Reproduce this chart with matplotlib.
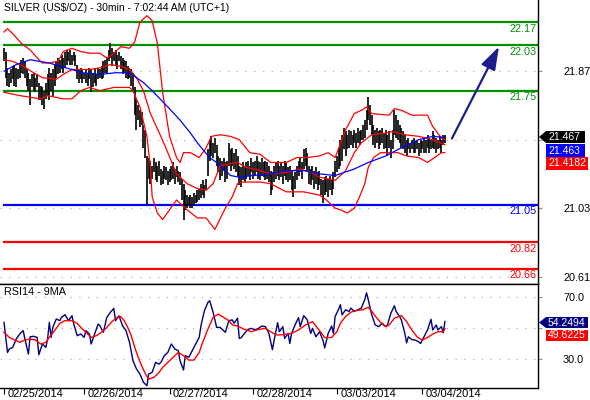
import matplotlib
matplotlib.use('Agg')
import matplotlib.pyplot as plt
import matplotlib.transforms as mtransforms
from matplotlib.patches import Polygon
import numpy as np

plt.rcParams['font.family'] = ['Liberation Sans', 'DejaVu Sans']

# ---------------- data ----------------
title = "SILVER (US$/OZ) - 30min - 7:02:44 AM (UTC+1)"
rsi_title = "RSI14 - 9MA"
date_labels = ["02/25/2014", "02/26/2014", "02/27/2014", "02/28/2014", "03/03/2014", "03/04/2014"]
date_ticks = [0, 46, 95, 143, 191, 240]          # bar index of each session start

price_ticks = [21.87, 21.45, 21.03, 20.61]
price_tick_labels = ["21.87", "", "21.03", "20.61"]   # 21.45 is hidden behind the value tags
rsi_ticks = [30.0, 50.0, 70.0]
rsi_tick_labels = ["30.0", "", "70.0"]                # 50.0 is hidden behind the value tags

green_levels = [22.17, 22.03, 21.75]
blue_levels = [21.05]
red_levels = [20.82, 20.66]

bar_high = [
    22.01, 21.99, 21.89, 21.86, 21.88, 21.90, 21.91, 21.89, 21.88, 21.91,
    21.94, 21.95, 21.93, 21.88, 21.86, 21.82, 21.85, 21.86, 21.83, 21.85,
    21.80, 21.78, 21.77, 21.75, 21.80, 21.85, 21.89, 21.86, 21.88, 21.91,
    21.93, 21.95, 21.94, 21.97, 21.95, 21.99, 22.00, 21.99, 22.00, 21.97,
    21.99, 21.97, 21.91, 21.88, 21.89, 21.88, 21.86, 21.88, 21.86, 21.89,
    21.88, 21.86, 21.88, 21.85, 21.89, 21.88, 21.90, 21.93, 21.94, 21.95,
    22.00, 22.04, 22.01, 21.99, 22.00, 21.97, 21.99, 21.96, 21.95, 21.94,
    21.93, 21.90, 21.89, 21.88, 21.86, 21.77, 21.69, 21.66, 21.63, 21.62,
    21.54, 21.51, 21.35, 21.34, 21.32, 21.29, 21.34, 21.31, 21.29, 21.32,
    21.27, 21.26, 21.29, 21.28, 21.26, 21.27, 21.29, 21.31, 21.27, 21.29,
    21.26, 21.25, 21.21, 21.18, 21.14, 21.11, 21.10, 21.11, 21.10, 21.12,
    21.11, 21.14, 21.15, 21.18, 21.20, 21.17, 21.21, 21.39, 21.45, 21.47,
    21.43, 21.46, 21.42, 21.35, 21.34, 21.32, 21.34, 21.31, 21.32, 21.43,
    21.39, 21.40, 21.37, 21.39, 21.35, 21.29, 21.28, 21.31, 21.29, 21.31,
    21.32, 21.29, 21.34, 21.31, 21.32, 21.35, 21.32, 21.31, 21.34, 21.31,
    21.32, 21.31, 21.29, 21.26, 21.25, 21.29, 21.31, 21.32, 21.29, 21.31,
    21.29, 21.32, 21.31, 21.28, 21.29, 21.26, 21.23, 21.25, 21.29, 21.32,
    21.34, 21.31, 21.39, 21.40, 21.37, 21.29, 21.27, 21.29, 21.26, 21.28,
    21.25, 21.26, 21.21, 21.20, 21.22, 21.23, 21.21, 21.23, 21.20, 21.25,
    21.32, 21.35, 21.39, 21.45, 21.48, 21.52, 21.50, 21.48, 21.51, 21.50,
    21.48, 21.51, 21.49, 21.52, 21.50, 21.51, 21.54, 21.57, 21.63, 21.71,
    21.66, 21.60, 21.54, 21.51, 21.52, 21.50, 21.51, 21.52, 21.49, 21.51,
    21.48, 21.50, 21.45, 21.51, 21.63, 21.60, 21.57, 21.54, 21.52, 21.50,
    21.48, 21.45, 21.46, 21.43, 21.45, 21.46, 21.44, 21.45, 21.43, 21.45,
    21.44, 21.46, 21.45, 21.48, 21.46, 21.45, 21.50, 21.48, 21.46, 21.45,
    21.47, 21.45, 21.48, 21.48,
]
bar_low = [
    21.93, 21.83, 21.78, 21.77, 21.80, 21.82, 21.78, 21.77, 21.82, 21.83,
    21.86, 21.85, 21.83, 21.78, 21.75, 21.66, 21.77, 21.75, 21.74, 21.77,
    21.69, 21.69, 21.66, 21.64, 21.70, 21.72, 21.69, 21.75, 21.72, 21.78,
    21.83, 21.85, 21.86, 21.88, 21.86, 21.89, 21.91, 21.93, 21.91, 21.91,
    21.93, 21.90, 21.82, 21.80, 21.82, 21.80, 21.82, 21.80, 21.78, 21.82,
    21.74, 21.77, 21.80, 21.78, 21.82, 21.83, 21.82, 21.83, 21.86, 21.85,
    21.93, 21.95, 21.90, 21.93, 21.91, 21.88, 21.93, 21.88, 21.85, 21.86,
    21.83, 21.82, 21.83, 21.78, 21.75, 21.60, 21.51, 21.57, 21.53, 21.54,
    21.40, 21.34, 21.05, 21.21, 21.18, 21.21, 21.25, 21.20, 21.19, 21.23,
    21.17, 21.18, 21.21, 21.20, 21.17, 21.19, 21.20, 21.21, 21.18, 21.22,
    21.19, 21.17, 21.08, 20.96, 21.02, 21.03, 21.05, 21.03, 21.03, 21.05,
    21.06, 21.07, 21.08, 21.09, 21.11, 21.09, 21.14, 21.23, 21.32, 21.35,
    21.34, 21.37, 21.29, 21.25, 21.20, 21.23, 21.26, 21.19, 21.21, 21.29,
    21.26, 21.29, 21.27, 21.25, 21.23, 21.17, 21.16, 21.20, 21.19, 21.21,
    21.23, 21.20, 21.25, 21.21, 21.23, 21.25, 21.21, 21.20, 21.23, 21.22,
    21.20, 21.21, 21.19, 21.11, 21.14, 21.19, 21.21, 21.23, 21.20, 21.22,
    21.18, 21.23, 21.20, 21.19, 21.20, 21.14, 21.10, 21.15, 21.20, 21.23,
    21.25, 21.21, 21.27, 21.29, 21.26, 21.18, 21.17, 21.20, 21.15, 21.18,
    21.14, 21.17, 21.11, 21.06, 21.11, 21.13, 21.10, 21.14, 21.11, 21.15,
    21.22, 21.25, 21.27, 21.29, 21.32, 21.39, 21.35, 21.39, 21.40, 21.42,
    21.40, 21.43, 21.40, 21.43, 21.42, 21.45, 21.45, 21.46, 21.51, 21.57,
    21.54, 21.48, 21.42, 21.40, 21.43, 21.39, 21.42, 21.43, 21.39, 21.40,
    21.35, 21.40, 21.34, 21.39, 21.48, 21.46, 21.45, 21.43, 21.40, 21.39,
    21.37, 21.35, 21.39, 21.37, 21.39, 21.37, 21.37, 21.39, 21.35, 21.37,
    21.39, 21.37, 21.37, 21.40, 21.37, 21.39, 21.40, 21.39, 21.37, 21.39,
    21.40, 21.37, 21.42, 21.43,
]

upper_t = [0, 2, 5, 10, 15, 20, 22, 26, 31, 34, 39, 44, 49, 55, 59, 62, 67, 72, 75, 78,
           82, 85, 88, 91, 95, 99, 101, 103, 107, 112, 116, 119, 124, 130, 135, 141, 147, 153, 162, 168,
           174, 181, 186, 190, 196, 201, 205, 208, 211, 221, 224, 228, 234, 243, 246, 251, 253]
upper_band = [22.11, 22.13, 22.10, 22.04, 22.00, 21.94, 21.92, 21.92, 21.93, 21.99, 22.01, 21.99, 21.98, 21.98, 21.95, 21.97, 22.02, 22.01, 22.05, 22.17,
              22.21, 22.18, 22.04, 21.74, 21.47, 21.34, 21.31, 21.37, 21.37, 21.34, 21.40, 21.47, 21.48, 21.47, 21.45, 21.37, 21.36, 21.31, 21.31, 21.34,
              21.34, 21.35, 21.37, 21.34, 21.51, 21.61, 21.63, 21.65, 21.61, 21.60, 21.64, 21.63, 21.60, 21.60, 21.53, 21.46, 21.45]

mid_t = [0, 5, 11, 17, 22, 30, 34, 39, 44, 49, 55, 61, 67, 72, 76, 80, 84, 90, 94, 99,
         105, 111, 116, 120, 124, 134, 139, 147, 153, 162, 170, 176, 181, 190, 196, 201, 205, 211, 219, 223,
         230, 238, 246, 253]
mid_band = [21.94, 21.93, 21.90, 21.86, 21.83, 21.82, 21.85, 21.88, 21.88, 21.88, 21.89, 21.91, 21.90, 21.88, 21.83, 21.75, 21.61, 21.47, 21.37, 21.24,
            21.18, 21.15, 21.14, 21.18, 21.29, 21.31, 21.28, 21.26, 21.24, 21.25, 21.27, 21.25, 21.22, 21.20, 21.26, 21.37, 21.43, 21.48, 21.49, 21.50,
            21.48, 21.47, 21.45, 21.4182]

lower_t = [0, 9, 21, 25, 34, 39, 44, 49, 55, 63, 72, 74, 78, 82, 84, 85, 88, 91, 95, 99,
           101, 105, 111, 116, 121, 127, 131, 134, 137, 147, 153, 162, 172, 181, 185, 190, 193, 197, 201, 204,
           207, 209, 212, 216, 226, 231, 238, 243, 247, 251, 253]
lower_band = [21.74, 21.72, 21.70, 21.72, 21.70, 21.70, 21.75, 21.77, 21.75, 21.77, 21.77, 21.75, 21.65, 21.47, 21.28, 21.10, 21.00, 20.96, 21.02, 21.08,
              21.06, 21.02, 20.97, 20.97, 20.90, 21.03, 21.10, 21.18, 21.19, 21.19, 21.18, 21.13, 21.13, 21.11, 21.08, 21.03, 21.02, 21.00, 21.03, 21.10,
              21.18, 21.28, 21.34, 21.37, 21.37, 21.35, 21.34, 21.31, 21.34, 21.37, 21.37]

ma_t = [0, 7, 15, 20, 26, 32, 39, 45, 55, 64, 72, 80, 85, 94, 101, 107, 111, 114, 118, 122,
        127, 130, 135, 143, 153, 162, 172, 181, 190, 201, 209, 219, 228, 238, 246, 253]
ma_line = [21.87, 21.91, 21.94, 21.93, 21.92, 21.90, 21.88, 21.86, 21.85, 21.86, 21.86, 21.80, 21.75, 21.65, 21.57, 21.49, 21.43, 21.39, 21.34, 21.31,
           21.26, 21.23, 21.22, 21.23, 21.24, 21.26, 21.26, 21.24, 21.23, 21.27, 21.31, 21.35, 21.40, 21.45, 21.47, 21.463]

rsi_t = [0, 1, 2, 3, 5, 7, 9, 11, 12, 14,
         15, 17, 19, 20, 22, 24, 25, 26, 27, 28,
         30, 32, 33, 35, 37, 39, 40, 42, 44, 46,
         47, 49, 50, 52, 54, 55, 57, 59, 61, 63,
         64, 66, 68, 70, 72, 74, 76, 78, 80, 81,
         82, 83, 85, 87, 89, 90, 92, 94, 96, 98,
         100, 101, 103, 104, 106, 108, 110, 112, 113, 115,
         117, 118, 120, 122, 124, 126, 127, 129, 131, 132,
         134, 135, 136, 138, 140, 142, 144, 146, 148, 150,
         152, 154, 155, 157, 158, 160, 161, 163, 164, 165,
         167, 169, 170, 172, 174, 176, 177, 179, 181, 183,
         184, 186, 188, 189, 190, 192, 193, 194, 196, 198,
         199, 201, 203, 205, 207, 208, 209, 211, 213, 215,
         217, 219, 220, 222, 224, 225, 227, 228, 230, 231,
         232, 234, 236, 238, 239, 241, 242, 243, 245, 246,
         248, 249, 251, 252, 253]
rsi = [53.7, 43.9, 34.1, 36.3, 37.4, 42.8, 46.1, 48.3, 42.8, 33.0,
       44.3, 44.6, 43.9, 32.6, 39.6, 37.4, 42.8, 53.7, 43.9, 50.4,
       55.9, 54.8, 57.0, 58.7, 54.8, 58.0, 52.6, 45.0, 46.1, 43.9,
       48.3, 46.1, 39.6, 46.1, 52.6, 51.5, 47.2, 57.0, 60.2, 62.8,
       54.8, 58.0, 51.5, 48.3, 40.7, 28.7, 23.3, 20.0, 14.6, 13.5,
       12.4, 20.0, 21.1, 27.6, 26.5, 27.6, 32.0, 34.1, 39.6, 36.3,
       35.2, 28.7, 22.6, 32.0, 30.9, 35.2, 39.6, 43.9, 51.5, 61.3,
       66.7, 67.8, 60.2, 50.4, 50.4, 48.3, 47.2, 54.8, 55.3, 53.1,
       56.4, 43.2, 43.6, 46.5, 49.1, 49.8, 48.7, 49.8, 51.3, 50.9,
       46.5, 35.9, 42.1, 53.5, 47.6, 50.9, 43.2, 46.5, 39.9, 46.5,
       52.0, 56.8, 50.9, 58.1, 55.3, 46.5, 49.8, 44.3, 47.6, 42.1,
       37.0, 46.5, 51.3, 46.5, 57.5, 62.3, 65.2, 58.6, 61.9, 60.8,
       63.0, 60.8, 61.9, 63.0, 68.5, 72.9, 68.5, 58.6, 52.0, 50.9,
       53.1, 50.9, 52.0, 59.7, 64.5, 60.8, 57.5, 55.3, 46.5, 40.3,
       44.3, 42.5, 42.1, 41.0, 39.9, 44.3, 46.5, 48.7, 55.7, 48.7,
       52.0, 48.7, 50.9, 46.9, 54.2494]

rsi_ma_t = [0, 3, 6, 9, 12, 15, 18, 21, 24, 26, 29, 32, 35, 39, 42, 45, 47, 50, 53, 56,
            59, 62, 65, 67, 69, 71, 73, 75, 77, 79, 81, 83, 86, 89, 91, 94, 97, 100, 103, 106,
            109, 112, 114, 117, 120, 123, 126, 129, 131, 134, 138, 142, 146, 150, 154, 157, 161, 165, 169, 173,
            177, 179, 182, 184, 188, 191, 193, 196, 199, 202, 206, 209, 211, 214, 217, 219, 221, 224, 228, 231,
            234, 237, 240, 243, 246, 249, 252, 253]
rsi_ma = [47.2, 43.9, 42.2, 40.7, 42.2, 42.8, 42.2, 39.6, 40.7, 43.9, 48.3, 53.0, 54.8, 54.8, 53.0, 49.3, 47.2, 43.9, 45.0, 47.2,
          50.4, 54.3, 57.0, 57.4, 54.8, 50.4, 45.0, 37.4, 30.9, 25.4, 20.4, 16.7, 17.8, 21.1, 24.3, 27.6, 30.9, 34.1, 32.0, 29.1,
          29.1, 34.1, 40.7, 49.3, 57.0, 59.1, 57.0, 54.8, 52.0, 51.3, 49.1, 47.6, 49.1, 49.8, 46.9, 45.4, 45.8, 46.5, 48.7, 52.0,
          54.2, 51.3, 46.9, 43.8, 43.8, 47.6, 53.1, 57.5, 60.3, 61.4, 61.9, 63.6, 60.8, 56.4, 52.6, 50.9, 52.0, 56.4, 58.1, 54.2,
          48.7, 44.3, 42.1, 43.8, 46.0, 47.6, 47.6, 49.6225]

last_close = 21.467
last_ma = 21.463
last_band = 21.4182
last_rsi = 54.2494
last_rsi_ma = 49.6225

forecast_from = (257, 21.457)
forecast_to = (284, 22.02)

# ---------------- figure ----------------
W, H = 590, 400
fig = plt.figure(figsize=(W / 100, H / 100), dpi=100)
fig.patch.set_facecolor('white')


def fx(x):
    return x / W


def fy(y):
    return 1 - y / H


ax = fig.add_axes([0, fy(284), fx(538), 284 / H])
ax2 = fig.add_axes([0, fy(388), fx(538), (388 - 284) / H])

XMIN, XMAX = -2.3, 306.4
ax.set_xlim(XMIN, XMAX)
ax2.set_xlim(XMIN, XMAX)
ax.set_ylim(20.565, 22.306)
ax2.set_ylim(10.9, 78.7)

for a in (ax, ax2):
    a.set_facecolor('white')
    a.spines['left'].set_visible(False)
    for s in ('right', 'bottom', 'top'):
        a.spines[s].set_color('black')
        a.spines[s].set_linewidth(1.0)
ax.spines['top'].set_visible(False)

grid_kw = dict(color='#b4b4b4', linestyle=(0, (1, 6)), linewidth=0.9, zorder=0)

# main panel
ax.set_xticks([])
ax.yaxis.tick_right()
ax.set_yticks(price_ticks)
ax.set_yticklabels(price_tick_labels)
ax.tick_params(axis='y', length=3, width=0.8, color='#909090', pad=15, labelsize=7.8)
for p in price_ticks:
    ax.axhline(p, **grid_kw)

lvl_start = (0 - XMIN) / (XMAX - XMIN)
level_trans = mtransforms.offset_copy(mtransforms.blended_transform_factory(ax.transAxes, ax.transData),
                                      fig=fig, x=-1.5, y=-1.5, units='dots')
for lev_list, col in ((green_levels, '#009000'), (blue_levels, '#0000ff'), (red_levels, '#ff0000')):
    for lev in lev_list:
        ax.axhline(lev, xmin=lvl_start, xmax=1, color=col, lw=1.6, zorder=2)
        ax.text(1, lev, f"{lev:.2f}", transform=level_trans, ha='right', va='top',
                color=col, fontsize=7.8, zorder=3)

xb = np.arange(len(bar_high))
ax.vlines(xb, bar_low, bar_high, color='black', lw=1.2, zorder=4)
ax.plot(upper_t, upper_band, color='red', lw=0.9, zorder=5)
ax.plot(mid_t, mid_band, color='red', lw=0.9, zorder=5)
ax.plot(lower_t, lower_band, color='red', lw=0.9, zorder=5)
ax.plot(ma_t, ma_line, color='#0000ff', lw=0.9, zorder=5)

ax.annotate('', xy=forecast_to, xytext=forecast_from,
            arrowprops=dict(arrowstyle='-|>,head_length=1.0,head_width=0.33', color='#1c1c8c',
                            lw=1.6, mutation_scale=14, shrinkA=0, shrinkB=0), zorder=6)

# RSI panel
ax2.yaxis.tick_right()
ax2.set_yticks(rsi_ticks)
ax2.set_yticklabels(rsi_tick_labels)
ax2.tick_params(axis='y', length=3, width=0.8, color='#909090', pad=15, labelsize=7.8)
for r in rsi_ticks:
    ax2.axhline(r, **grid_kw)
ax2.set_xticks(date_ticks)
ax2.set_xticklabels([])
ax2.tick_params(axis='x', length=4, width=0.8, color='black', direction='out')
date_trans = mtransforms.offset_copy(mtransforms.blended_transform_factory(ax2.transData, ax2.transAxes),
                                     fig=fig, x=3.5, y=-6, units='dots')
for t, lab in zip(date_ticks, date_labels):
    ax2.text(t, 0, lab, transform=date_trans, ha='left', va='center', fontsize=8, clip_on=False)

ax2.plot(rsi_t, rsi, color='#000080', lw=1.0, zorder=4)
ax2.plot(rsi_ma_t, rsi_ma, color='#ff0000', lw=1.0, zorder=5)

# titles
fig.text(fx(4), fy(8), title, ha='left', va='center', fontsize=7.5)
fig.text(fx(4), fy(292), rsi_title, ha='left', va='center', fontsize=7.8)


# value tags on the right
def tag(x0, y0, x1, y1, text, fc, arrow=False):
    ym = (y0 + y1) / 2
    pts = [(x0, y0), (x1, y0), (x1, y1), (x0, y1)]
    if arrow:
        pts = [(x0 - 7, ym)] + pts
    fig.patches.append(Polygon([(fx(a), fy(b)) for a, b in pts], closed=True,
                               transform=fig.transFigure, facecolor=fc, edgecolor='none', zorder=5))
    fig.text(fx(x0 + 2), fy(ym), text, color='white', fontsize=7.5, ha='left', va='center', zorder=6)


tag(546, 131, 585, 143, f"{last_close:.3f}", 'black', arrow=True)
tag(546, 144, 585, 157, f"{last_ma:.3f}", '#0000ff')
tag(546, 157, 588, 170, f"{last_band:.4f}", '#ff0000')
tag(546, 317, 588, 328, f"{last_rsi:.4f}", '#000080', arrow=True)
tag(546, 330, 588, 341, f"{last_rsi_ma:.4f}", '#ff0000')

fig.savefig('out.png', dpi=100, facecolor='white')
